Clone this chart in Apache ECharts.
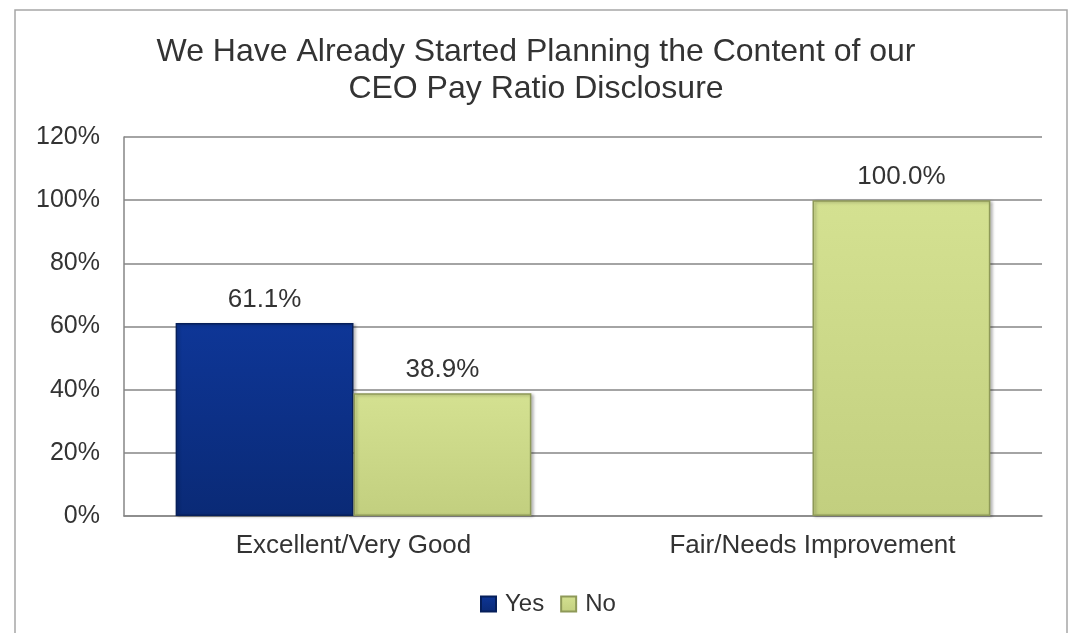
<!DOCTYPE html>
<html><head><meta charset="utf-8">
<script src="https://cdn.jsdelivr.net/npm/echarts@6/dist/echarts.min.js"></script>
<style>html,body{margin:0;padding:0;background:#fff}#c{width:1072px;height:633px}</style>
</head><body><div id="c"></div>
<script>
const titleText = "We Have Already Started Planning the Content of our\nCEO Pay Ratio Disclosure";
const categories = ["Excellent/Very Good", "Fair/Needs Improvement"];
const yesValues = [61.1, null];
const noValues = [38.9, 100.0];
const seriesNames = ["Yes", "No"];
const yTicks = [0, 20, 40, 60, 80, 100, 120];

const font = "'Liberation Sans', Arial, sans-serif";
const chart = echarts.init(document.getElementById('c'));
function grad(top, bottom){
  return new echarts.graphic.LinearGradient(0,0,0,1,[{offset:0,color:top},{offset:1,color:bottom}]);
}
chart.setOption({
  animation:false,
  backgroundColor:'#fff',
  graphic:[{type:'rect',shape:{x:15,y:10,width:1052,height:640},style:{fill:'none',stroke:'#a6a6a6',lineWidth:1.5},silent:true}],
  title:{text:titleText,left:'center',top:29,textStyle:{fontFamily:font,fontSize:32,fontWeight:'normal',color:'#333',lineHeight:37}},
  grid:{left:124,right:30,top:137,bottom:117,containLabel:false},
  legend:{top:587,left:475,itemWidth:15,itemHeight:15,itemGap:16,icon:'rect',
    textStyle:{fontFamily:font,fontSize:24,color:'#333',padding:[0,0,0,4]},data:seriesNames},
  xAxis:{type:'category',data:categories,
    axisLine:{lineStyle:{color:'#868686',width:1.5}},axisTick:{show:false},
    axisLabel:{fontFamily:font,fontSize:26,color:'#333',margin:17}},
  yAxis:{type:'value',min:yTicks[0],max:yTicks[yTicks.length-1],interval:20,
    axisLine:{show:true,lineStyle:{color:'#868686',width:1.5}},axisTick:{show:false},
    splitLine:{lineStyle:{color:'#868686',width:1.5}},
    axisLabel:{fontFamily:font,fontSize:25,color:'#333',margin:24,formatter:v=>v+'%'}},
  series:[
    {name:seriesNames[0],type:'bar',data:yesValues,barGap:'0%',barCategoryGap:'22.5%',
     itemStyle:{color:grad('#0e3697','#0a2a76'),borderColor:'#061f5a',borderWidth:1.5,
       shadowColor:'rgba(0,0,0,0.25)',shadowBlur:3,shadowOffsetX:2,shadowOffsetY:1},
     label:{show:true,position:'top',distance:10,fontFamily:font,fontSize:26,color:'#333',formatter:p=>p.value.toFixed(1)+'%'}},
    {name:seriesNames[1],type:'bar',data:noValues,barGap:'0%',barCategoryGap:'22.5%',
     itemStyle:{color:grad('#d4e191','#c2cf7f'),borderColor:'#8e9958',borderWidth:1.5,
       shadowColor:'rgba(0,0,0,0.25)',shadowBlur:3,shadowOffsetX:2,shadowOffsetY:1},
     label:{show:true,position:'top',distance:10,fontFamily:font,fontSize:26,color:'#333',formatter:p=>p.value.toFixed(1)+'%'}}
  ]
});
</script></body></html>
